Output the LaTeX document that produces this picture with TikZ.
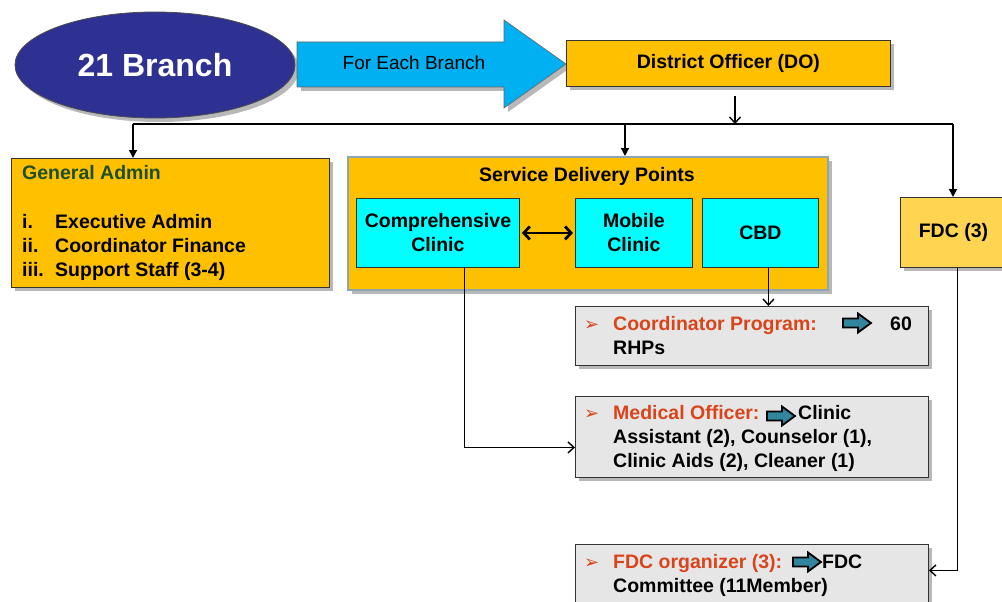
\documentclass[tikz,border=0pt]{standalone}
\usepackage{fontspec}
\setmainfont{Liberation Sans}
\newfontfamily\dejavu{DejaVu Sans}
\usetikzlibrary{shapes.geometric,shadows,arrows.meta,calc}
\definecolor{orangebox}{HTML}{FFC000}
\definecolor{fdcbox}{HTML}{FFD450}
\definecolor{cyanbox}{HTML}{00FFFF}
\definecolor{graybox}{HTML}{E6E6E6}
\definecolor{navyc}{HTML}{2E3192}
\definecolor{arrowblue}{HTML}{00B0F0}
\definecolor{orangetxt}{HTML}{D9441A}
\definecolor{darkgreen}{HTML}{1F4E2A}
\definecolor{sdpborder}{HTML}{8EA4AE}
\definecolor{tealc}{HTML}{31859C}
\begin{document}
\begin{tikzpicture}[x=1pt,y=-1pt,
  every node/.style={font=\bfseries\fontsize{19.5}{24}\selectfont, inner sep=0pt},
  shad/.style={drop shadow={shadow xshift=4pt,shadow yshift=-4pt,fill=black,opacity=0.28}},
  obox/.style={draw=black!80, line width=0.9pt, fill=orangebox, shad, anchor=north west},
  cbox/.style={draw=black!80, line width=0.9pt, fill=cyanbox, anchor=north west, align=center},
  gbox/.style={draw=black!80, line width=0.9pt, fill=graybox, shad, anchor=north west},
  conn/.style={line width=1.4pt, black},
  busarrow/.style={conn, -{Triangle[length=8pt,width=8pt]}},
  barb/.style={conn, -{Straight Barb[length=6pt,width=11pt]}},
  bullet/.style={anchor=base west, text=orangetxt, font=\dejavu\fontsize{18}{18}\selectfont},
  icon/.pic={\draw[fill=tealc, line width=1.8pt, line join=miter] (-14,-4.5) -- (1,-4.5) -- (1,-9.5) -- (14,0) -- (1,9.5) -- (1,4.5) -- (-14,4.5) -- cycle;}
]
\fill[white] (0,0) rectangle (1002,602);
\clip (0,0) rectangle (1002,602);

% top row
\node[ellipse, draw=black!70, line width=0.8pt, fill=navyc, minimum width=280pt, minimum height=106pt, shad, text=white, font=\bfseries\fontsize{32}{36}\selectfont] (br) at (155,65) {21 Branch};
\draw[fill=arrowblue, draw=black!60, line width=0.6pt, shad] (297,42) -- (504,42) -- (504,20) -- (566,64) -- (504,108) -- (504,87) -- (297,87) -- cycle;
\node[anchor=base, font=\fontsize{19}{22}\selectfont] (feb) at (414,70) {For Each Branch};
\node[obox, minimum width=324pt, minimum height=46pt] (DO) at (566,40) {District Officer (DO)};

% second row boxes
\node[obox, minimum width=318pt, minimum height=129pt] (GA) at (11,158) {};
\node[anchor=north west, align=left] (gatext) at (22,163) {\rule{0pt}{16pt}\textcolor{darkgreen}{General Admin}\\[25pt]
\makebox[33pt][l]{i.}Executive Admin\\
\makebox[33pt][l]{ii.}Coordinator Finance\\
\makebox[33pt][l]{iii.}Support Staff (3-4)};

\node[obox, draw=sdpborder, line width=1.6pt, minimum width=480pt, minimum height=133pt] (SDP) at (347,156) {};
\node[anchor=base] (sdpt) at (587,181) {Service Delivery Points};
\node[cbox, minimum width=163pt, minimum height=69pt] (comp) at (356,198) {Comprehensive\\Clinic};
\node[cbox, minimum width=117pt, minimum height=69pt] (mob) at (575,198) {Mobile\\Clinic};
\node[cbox, minimum width=116pt, minimum height=69pt] (cbd) at (702,198) {CBD};
\draw[line width=2.8pt, {Straight Barb[length=6pt,width=13pt]}-{Straight Barb[length=6pt,width=13pt]}] ([xshift=2pt]comp.east) -- ([xshift=-2pt]mob.west);

\node[obox, fill=fdcbox, minimum width=106pt, minimum height=70pt] (FDC) at (900,197) {FDC (3)};

% lower gray boxes
\node[gbox, minimum width=353pt, minimum height=59pt] (coord) at (575,306) {};
\node[bullet] (b1) at (584,330) {➢};
\node[anchor=north west, align=left] (coordtxt) at (613,314) {\rule{0pt}{16pt}\makebox[277pt][l]{\textcolor{orangetxt}{Coordinator Program:}}60\\RHPs};
\pic at (857,323) {icon};

\node[gbox, minimum width=353pt, minimum height=81pt] (mo) at (575,396) {};
\node[bullet] (b2) at (584,419) {➢};
\node[anchor=north west, align=left] (motxt) at (613,403) {\rule{0pt}{16pt}\makebox[185pt][l]{\textcolor{orangetxt}{Medical Officer:}}Clinic\\Assistant (2), Counselor (1),\\Clinic Aids (2), Cleaner (1)};
\pic at (781,416) {icon};

\node[gbox, minimum width=353pt, minimum height=66pt] (fdco) at (575,544) {};
\node[bullet] (b3) at (584,568) {➢};
\node[anchor=north west, align=left] (fdcotxt) at (613,552) {\rule{0pt}{16pt}\makebox[209pt][l]{\textcolor{orangetxt}{FDC organizer (3):}}FDC\\Committee (11Member)};
\pic at (807,562) {icon};

% connectors
\coordinate (bus) at (735,124);
\coordinate (busL) at (133,124);
\coordinate (busM) at (625,124);
\coordinate (busR) at (953,124);
\draw[barb] ($(DO.south -| bus)+(0,9)$) -- (bus);
\draw[conn] (busL) -- (busR);
\draw[busarrow] (busL) -- (GA.north -| busL);
\draw[busarrow] (busM) -- (SDP.north -| busM);
\draw[busarrow] (busR) -- (FDC.north -| busR);
\draw[barb] ([xshift=8pt]cbd.south) -- ([xshift=8pt]cbd.south |- coord.north);
\draw[barb] ([xshift=26.5pt]comp.south) |- ([yshift=-10.5pt]mo.west);
\draw[barb] ([xshift=4pt]FDC.south) |- ([yshift=7pt]fdco.east);
\end{tikzpicture}
\end{document}
